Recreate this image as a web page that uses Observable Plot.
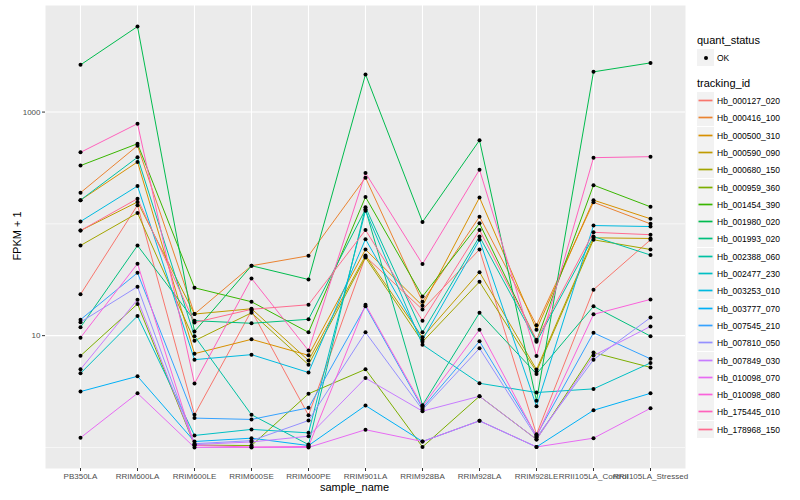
<!DOCTYPE html>
<html><head><meta charset="utf-8">
<script src="https://cdn.jsdelivr.net/npm/d3@7"></script>
<script src="https://cdn.jsdelivr.net/npm/@observablehq/plot@0.6"></script>
<style>
body{margin:0;background:#fff;font-family:"Liberation Sans",Arial,Helvetica,sans-serif;}
#wrap{position:relative;width:800px;height:500px;overflow:hidden;}
#chart{position:absolute;left:0;top:0;}
.ttl{position:absolute;font-size:11px;color:#000;white-space:nowrap;}
#legend{position:absolute;left:697px;top:0;width:103px;}
.lgt{position:absolute;left:0;font-size:11px;color:#000;white-space:nowrap;}
.row{position:absolute;left:0;height:17px;display:flex;align-items:center;}
.key{width:17px;height:17px;background:#F2F2F2;position:relative;}
.lab{font-size:8.5px;color:#000;margin-left:3px;white-space:nowrap;}
</style></head><body>
<div id="wrap"><div id="chart"></div><div id="legend"></div>
<div class="ttl" style="left:320px;top:481px;">sample_name</div>
<div class="ttl" style="left:-8px;top:230px;transform:rotate(-90deg);transform-origin:center;width:50px;text-align:center;">FPKM + 1</div>
</div>
<script>
const samples = ["PB350LA","RRIM600LA","RRIM600LE","RRIM600SE","RRIM600PE","RRIM901LA","RRIM928BA","RRIM928LA","RRIM928LE","RRII105LA_Control","RRII105LA_Stressed"];
const trackingIds = ["Hb_000127_020","Hb_000416_100","Hb_000500_310","Hb_000590_090","Hb_000680_150","Hb_000959_360","Hb_001454_390","Hb_001980_020","Hb_001993_020","Hb_002388_060","Hb_002477_230","Hb_003253_010","Hb_003777_070","Hb_007545_210","Hb_007810_050","Hb_007849_030","Hb_010098_070","Hb_010098_080","Hb_175445_010","Hb_178968_150"];
const colors = ["#F8766D","#EA8331","#D89000","#C09B00","#A3A500","#7CAE00","#39B600","#00BB4E","#00BF7D","#00C1A3","#00BFC4","#00BAE0","#00B0F6","#35A2FF","#9590FF","#C77CFF","#E76BF3","#FA62DB","#FF62BC","#FF6C90"];

// FPKM + 1, one value per sample (order of `samples`)
const Hb_000127_020 = [23.4, 147, 1.96, 16.7, 1.94, 51, 17.1, 59, 1.31, 25.8, 72];
const Hb_000416_100 = [190, 500, 15.6, 42.2, 51.8, 259, 20.1, 116, 12.4, 156, 100];
const Hb_000500_310 = [163, 358, 6.9, 9.27, 6.67, 59, 18.5, 172, 11.3, 163, 111];
const Hb_000590_090 = [87, 157, 15.6, 17.4, 6.0, 52, 9.66, 37, 4.97, 75, 74];
const Hb_000680_150 = [64, 125, 9.0, 16.0, 5.5, 50, 8.8, 30.3, 4.77, 72, 59];
const Hb_000959_360 = [6.6, 19.2, 1.05, 1.04, 3.02, 5.0, 1.01, 2.87, 1.18, 7.05, 5.2];
const Hb_001454_390 = [332, 521, 26.8, 20.1, 10.7, 174, 22.4, 101, 9.0, 222, 142];
const Hb_001980_020 = [2644, 5820, 10.9, 42.2, 31.8, 2173, 104, 559, 2.61, 2290, 2754];
const Hb_001993_020 = [11.9, 64, 13.6, 12.9, 14.0, 135, 2.39, 16, 4.55, 18.3, 9.9];
const Hb_002388_060 = [163, 394, 9.9, 1.96, 1.06, 141, 10.7, 77, 8.8, 77, 52.6];
const Hb_002477_230 = [4.6, 15, 1.28, 1.45, 1.35, 131, 8.3, 3.75, 3.1, 3.34, 5.7];
const Hb_003253_010 = [105, 218, 6.1, 6.76, 4.68, 73, 9.2, 72, 2.34, 96.6, 94.6];
const Hb_003777_070 = [3.16, 4.33, 1.13, 1.21, 1.04, 2.37, 1.13, 1.73, 1.01, 2.15, 3.05];
const Hb_007545_210 = [13.9, 36.5, 1.83, 1.78, 2.26, 18.3, 2.25, 8.9, 1.28, 10.6, 6.2];
const Hb_007810_050 = [13.2, 27.4, 1.08, 1.15, 1.74, 10.7, 2.18, 7.7, 1.23, 6.1, 14.5];
const Hb_007849_030 = [5.0, 21, 1.06, 1.12, 1.26, 4.17, 2.11, 2.87, 1.18, 6.63, 12.1];
const Hb_010098_070 = [1.22, 3.05, 1.0, 1.0, 1.0, 1.44, 1.13, 1.73, 1.01, 1.21, 2.24];
const Hb_010098_080 = [9.6, 44, 1.04, 1.01, 1.02, 18.9, 2.33, 11.3, 1.25, 15.5, 21.1];
const Hb_175445_010 = [436, 787, 3.73, 32.5, 7.35, 285, 43.7, 305, 6.59, 391, 399];
const Hb_178968_150 = [87, 168, 13.1, 17.2, 18.9, 88, 13.6, 88, 9.2, 84, 80];

const series = [Hb_000127_020,Hb_000416_100,Hb_000500_310,Hb_000590_090,Hb_000680_150,Hb_000959_360,Hb_001454_390,Hb_001980_020,Hb_001993_020,Hb_002388_060,Hb_002477_230,Hb_003253_010,Hb_003777_070,Hb_007545_210,Hb_007810_050,Hb_007849_030,Hb_010098_070,Hb_010098_080,Hb_175445_010,Hb_178968_150];
const rows = [];
series.forEach((vals, i) => vals.forEach((v, j) => rows.push({id: trackingIds[i], sample: samples[j], value: v, quant_status: "OK"})));

const chart = Plot.plot({
  width: 690, height: 500,
  marginLeft: 45, marginRight: 5, marginTop: 5, marginBottom: 32,
  style: {background: "white", fontFamily: "'Liberation Sans', Arial, sans-serif", fontSize: "8px", color: "#333333"},
  x: {type: "point", domain: samples, padding: 0.6, label: null},
  y: {type: "log", domain: [0.648, 8980], label: null},
  color: {domain: trackingIds, range: colors},
  marks: [
    Plot.frame({fill: "#EBEBEB", stroke: null}),
    Plot.ruleY([1, 100], {stroke: "#ffffff", strokeWidth: 0.6}),
    Plot.ruleY([10, 1000], {stroke: "#ffffff", strokeWidth: 1.1}),
    Plot.ruleX(samples, {x: d => d, stroke: "#ffffff", strokeWidth: 1.1}),
    Plot.line(rows, {x: "sample", y: "value", z: "id", stroke: "id", strokeWidth: 1}),
    Plot.dot(rows, {x: "sample", y: "value", r: 2, fill: "black", stroke: null}),
    Plot.axisX({tickSize: 3, tickPadding: 2, fontSize: 8, label: null, fill: "#4D4D4D"}),
    Plot.axisY({ticks: [10, 1000], tickFormat: d => String(d), tickSize: 3, tickPadding: 2, fontSize: 8, label: null, fill: "#4D4D4D"})
  ]
});
document.getElementById("chart").appendChild(chart);

// Legend
const lg = document.getElementById("legend");
function add(html){ lg.insertAdjacentHTML("beforeend", html); }
add(`<div class="lgt" style="top:34px">quant_status</div>`);
add(`<div class="row" style="top:49px"><div class="key"><div style="position:absolute;left:6.5px;top:6.5px;width:4px;height:4px;border-radius:50%;background:#000"></div></div><div class="lab">OK</div></div>`);
add(`<div class="lgt" style="top:77px">tracking_id</div>`);
trackingIds.forEach((id, i) => {
  const top = Math.round(92 + i * 17.3);
  add(`<div class="row" style="top:${top}px"><div class="key"><svg width="17" height="17" style="position:absolute;left:0;top:0"><line x1="1.5" x2="15.5" y1="8.5" y2="8.5" stroke="${colors[i]}" stroke-width="1.7"/></svg></div><div class="lab">${id}</div></div>`);
});
</script>
</body></html>
